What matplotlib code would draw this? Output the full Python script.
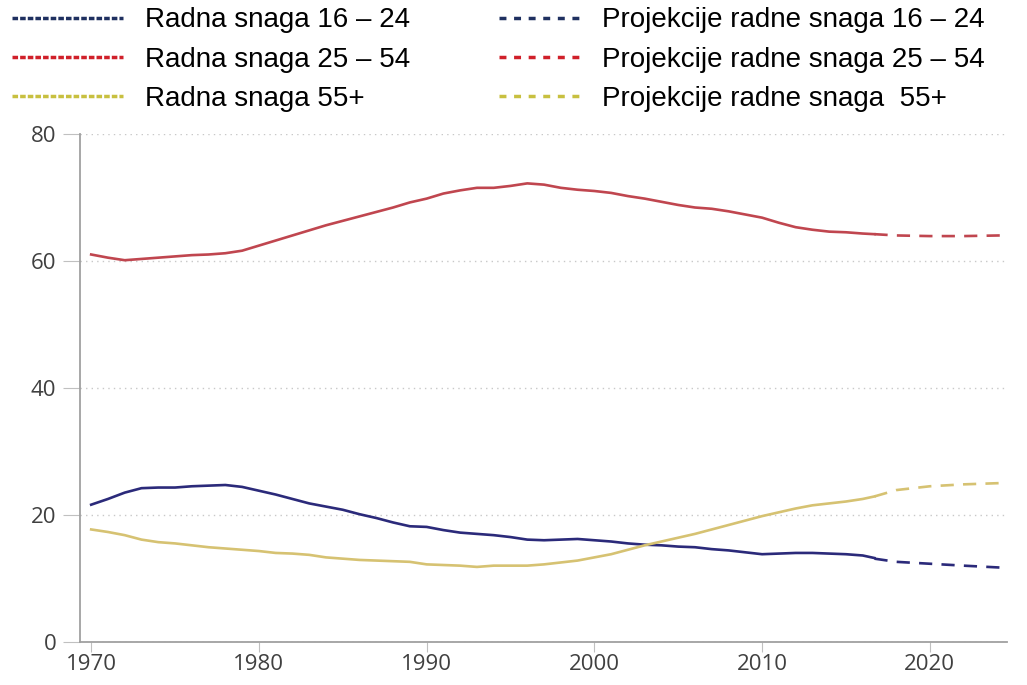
import matplotlib.pyplot as plt
from matplotlib.lines import Line2D

plt.rcParams['font.family'] = ['Liberation Sans', 'DejaVu Sans']

# godine (stvarni podaci)
godine = list(range(1970, 2017)) + [2016.7]

mladi = [21.6, 22.5, 23.5, 24.2, 24.3, 24.3, 24.5, 24.6, 24.7, 24.4,
         23.8, 23.2, 22.5, 21.8, 21.3, 20.8, 20.1, 19.5, 18.8, 18.2,
         18.1, 17.6, 17.2, 17.0, 16.8, 16.5, 16.1, 16.0, 16.1, 16.2,
         16.0, 15.8, 15.5, 15.3, 15.2, 15.0, 14.9, 14.6, 14.4, 14.1,
         13.8, 13.9, 14.0, 14.0, 13.9, 13.8, 13.6, 13.2]

srednji = [61.0, 60.5, 60.1, 60.3, 60.5, 60.7, 60.9, 61.0, 61.2, 61.6,
           62.4, 63.2, 64.0, 64.8, 65.6, 66.3, 67.0, 67.7, 68.4, 69.2,
           69.8, 70.6, 71.1, 71.5, 71.5, 71.8, 72.2, 72.0, 71.5, 71.2,
           71.0, 70.7, 70.2, 69.8, 69.3, 68.8, 68.4, 68.2, 67.8, 67.3,
           66.8, 66.0, 65.3, 64.9, 64.6, 64.5, 64.3, 64.2]

stariji = [17.7, 17.3, 16.8, 16.1, 15.7, 15.5, 15.2, 14.9, 14.7, 14.5,
           14.3, 14.0, 13.9, 13.7, 13.3, 13.1, 12.9, 12.8, 12.7, 12.6,
           12.2, 12.1, 12.0, 11.8, 12.0, 12.0, 12.0, 12.2, 12.5, 12.8,
           13.3, 13.8, 14.5, 15.2, 15.8, 16.4, 17.0, 17.7, 18.4, 19.1,
           19.8, 20.4, 21.0, 21.5, 21.8, 22.1, 22.5, 22.9]

# projekcije
god_proj = [2016.7, 2018, 2020, 2022, 2024.2]
mladi_proj = [13.1, 12.6, 12.3, 12.0, 11.7]
srednji_proj = [64.2, 64.0, 63.9, 63.9, 64.0]
stariji_proj = [22.9, 23.9, 24.5, 24.8, 25.0]

nazivi = ['Radna snaga 16 – 24', 'Radna snaga 25 – 54', 'Radna snaga 55+']
nazivi_proj = ['Projekcije radne snaga 16 – 24', 'Projekcije radne snaga 25 – 54',
               'Projekcije radne snaga  55+']

boje = ['#2b2a7a', '#c0464f', '#d6c272']
boje_leg = ['#1f3060', '#d0202a', '#c8c040']

fig = plt.figure(figsize=(10.27, 6.85), dpi=100)
ax = fig.add_axes([0.078, 0.063, 0.9025, 0.7416])

for y, yp, c in zip([mladi, srednji, stariji], [mladi_proj, srednji_proj, stariji_proj], boje):
    ax.plot(godine, y, color=c, lw=1.9)
    ax.plot(god_proj, yp, color=c, lw=1.9, linestyle=(0, (5, 3.5)))

ax.set_xlim(1969.34, 2024.6)
ax.set_ylim(0, 80)
ax.set_xticks([1970, 1980, 1990, 2000, 2010, 2020])
ax.set_yticks([0, 20, 40, 60, 80])
ax.yaxis.grid(True, linestyle=(0, (1, 3)), color='#c8c8c8', lw=1)
ax.set_axisbelow(True)
for s in ['top', 'right']:
    ax.spines[s].set_visible(False)
for s in ['left', 'bottom']:
    ax.spines[s].set_color('#a0a0a0')
    ax.spines[s].set_linewidth(1.3)
ax.tick_params(axis='y', length=12, color='#c0c0c0', labelsize=16, labelcolor='#404040', pad=5)
ax.tick_params(axis='x', length=7, color='#c0c0c0', labelsize=16, labelcolor='#404040', pad=2)
for lab in ax.get_xticklabels() + ax.get_yticklabels():
    lab.set_fontfamily(['Open Sans', 'DejaVu Sans'])

# legenda
h1 = [Line2D([], [], color=c, lw=2.5, linestyle=(0, (1.6, 0.6))) for c in boje_leg]
h2 = [Line2D([], [], color=c, lw=2.5, linestyle=(0, (2, 2.2))) for c in boje_leg]
fig.legend(h1, nazivi, loc='upper left', bbox_to_anchor=(-0.013, 1.0256), frameon=False,
           fontsize=20, handlelength=4.0, handletextpad=0.8, labelspacing=0.47)
fig.legend(h2, nazivi_proj, loc='upper left', bbox_to_anchor=(0.462, 1.0256), frameon=False,
           fontsize=20, handlelength=2.9, handletextpad=0.8, labelspacing=0.47)

fig.savefig('out.png', dpi=100)
